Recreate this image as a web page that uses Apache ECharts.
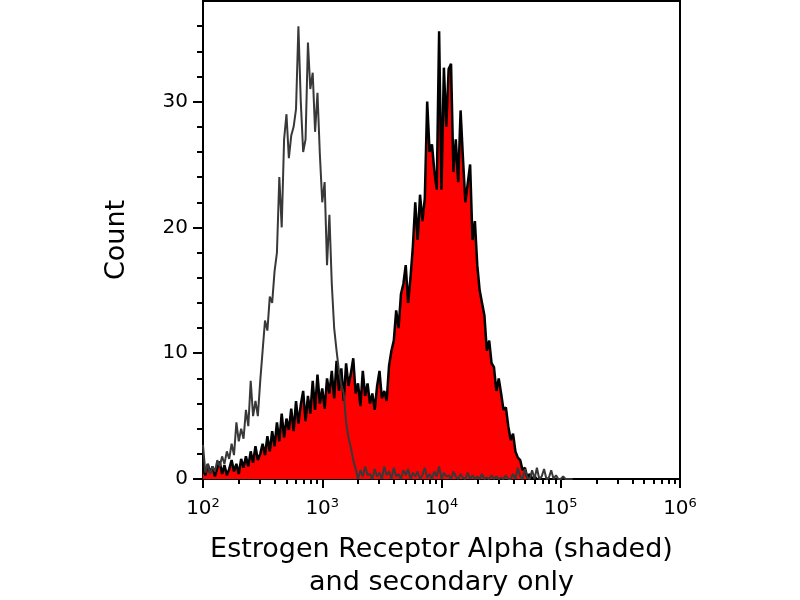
<!DOCTYPE html>
<html>
<head>
<meta charset="utf-8">
<script src="https://cdn.jsdelivr.net/npm/echarts@6/dist/echarts.min.js"></script>
<style>
  html, body { margin: 0; padding: 0; background: #fff; }
  #chart { width: 800px; height: 600px; }
</style>
</head>
<body>
<div id="chart"></div>
<script>
// histogram bins, in log10 of intensity
const binStart = 2
const binStep = 0.02

// Estrogen Receptor Alpha (shaded)
const erCounts = [
  0.8, 0.3, 1.2, 0.5, 1.0, 0.2, 0.9, 1.4, 0.4, 1.1, 0.3, 0.8, 1.5, 0.6, 1.2, 0.4, 1.6, 0.9,
  1.8, 1.0, 2.2, 1.3, 2.6, 1.5, 2.0,
  2.8, 1.9, 3.4, 2.2, 3.8, 2.6, 4.5, 3.0, 5.2, 3.3, 4.8, 3.9,
  5.6, 3.8, 6.2, 4.4, 5.9, 7.0, 4.6, 6.6, 5.2, 7.8, 5.5, 8.3, 6.0, 7.2, 5.6, 8.0, 6.8,
  8.6, 6.4, 9.4, 7.0, 8.8, 6.2, 9.2, 7.4, 8.4,
  9.6, 6.8, 7.6, 5.8, 8.6, 6.6, 7.6, 6.0,
  6.8, 5.5, 7.4, 8.6, 6.4, 7.0, 6.2, 9.0,
  10.2, 11.0, 13.4, 12.0, 14.7, 15.5, 17.0, 14.0,
  16.0, 18.5, 22.0, 19.0, 22.6, 20.5,
  22.3, 30.0, 26.0, 26.6, 24.5, 23.0, 35.6, 23.0,
  32.7, 28.0, 32.6, 33.0, 24.4, 27.0, 23.6, 29.3,
  25.5, 22.0, 23.5, 25.0, 19.0, 20.5, 17.0, 15.0,
  14.0, 13.0, 10.2, 11.0, 9.2, 8.9, 7.0, 8.0, 6.8, 5.5, 5.7,
  4.2, 3.1, 3.6, 2.2, 1.7, 1.5, 0.7, 0.9, 0.1, 0.4, 0.0, 0.2, 0.0
]

// secondary only
const secCounts = [
  2.7, 0.5, 1.2, 0.4, 1.0, 0.6, 1.5, 1.0, 1.8, 1.2, 2.2, 1.6, 2.8, 1.9, 4.5, 3.0, 4.0, 3.2,
  5.5, 4.2, 7.8, 5.0, 6.2, 5.0, 7.8, 10.2, 12.6, 11.8, 14.5, 14.0, 16.5, 18.0,
  24.0, 20.0, 27.0, 29.0, 25.5, 27.3, 28.0, 29.4, 36.0, 30.0, 26.0, 27.0, 34.7, 31.0,
  32.3, 27.6, 30.7, 25.8, 22.0, 23.6, 17.0, 21.0, 15.5, 12.0, 10.2, 8.6, 7.5, 6.8,
  4.5, 3.3, 2.5, 1.5, 0.8, 0.0, 0.7, 0.2, 1.0, 0.3,
  0.4, 0.0, 0.8, 0.2, 0.5, 0.0, 1.0, 0.3, 0.6, 0.0, 0.9, 0.2, 0.4, 0.0, 0.7, 0.3,
  0.8, 0.0, 0.5, 0.2, 0.6, 0.0, 0.3, 0.9, 0.1, 0.4, 0.0, 0.6, 0.2, 1.0, 0.0, 0.5, 0.2, 0.3, 0.0, 0.6,
  0.2, 0.0, 0.4, 0.1, 0.0, 0.5, 0.0, 0.3, 0.0, 0.2, 0.0, 0.4, 0.0, 0.1, 0.0, 0.3, 0.0, 0.2, 0.0, 0.1,
  0.0, 0.3, 0.0, 0.0, 0.4, 0.0, 0.9, 0.2, 0.0, 0.8, 0.1, 0.0, 0.7, 0.0, 0.9, 0.0, 0.2, 0.8, 0.0, 0.1,
  0.7, 0.0, 0.3, 0.0, 0.0, 0.2, 0.0, 0.0, 0.0, 0.0
]

// axis ticks
const xMajor = [2, 3, 4, 5, 6]
const xMinorMult = [2, 3, 4, 5, 6, 7, 8, 9]
const yMajor = [0, 10, 20, 30]
const yMinor = [2, 4, 6, 8, 12, 14, 16, 18, 22, 24, 26, 28, 32, 34, 36]

let xMinor = []
for (let d = 2; d < 6; d++) {
  xMinorMult.forEach(m => xMinor.push(d + Math.log10(m)))
}

function toPoints(counts) {
  return counts.map((c, i) => [binStart + i * binStep, c])
}

const font = 'DejaVu Sans'

let chart = echarts.init(document.getElementById('chart'))
chart.setOption({
  animation: false,
  textStyle: { fontFamily: font, color: '#000' },
  grid: {
    left: 203, right: 120, top: 1, bottom: 121,
    outerBoundsMode: 'none',
    containLabel: false,
    show: true, borderColor: '#000', borderWidth: 2
  },
  xAxis: [
    {
      type: 'value',
      min: 2, max: 6,
      name: 'Estrogen Receptor Alpha (shaded)\nand secondary only',
      nameLocation: 'middle',
      nameGap: 54,
      nameTextStyle: { fontFamily: font, fontSize: 27, lineHeight: 33, color: '#000' },
      splitLine: { show: false },
      axisLine: { show: true, lineStyle: { color: '#000', width: 2 } },
      axisTick: { show: true, customValues: xMajor, length: 9, lineStyle: { color: '#000', width: 2 } },
      axisLabel: {
        customValues: xMajor,
        margin: 18,
        formatter: v => '{b|10}{s|' + v + '}',
        rich: {
          b: { fontFamily: font, fontSize: 20, color: '#000', verticalAlign: 'bottom' },
          s: { fontFamily: font, fontSize: 13, color: '#000', verticalAlign: 'top', padding: [0, 0, 9, 0] }
        }
      }
    },
    {
      type: 'value',
      min: 2, max: 6,
      position: 'bottom',
      splitLine: { show: false },
      axisLine: { show: false },
      axisTick: { show: true, customValues: xMinor, length: 5, lineStyle: { color: '#000', width: 2 } },
      axisLabel: { show: false }
    }
  ],
  yAxis: [
    {
      type: 'value',
      min: 0, max: 38,
      name: 'Count',
      nameLocation: 'middle',
      nameGap: 73,
      nameTextStyle: { fontFamily: font, fontSize: 27, color: '#000' },
      splitLine: { show: false },
      axisLine: { show: true, lineStyle: { color: '#000', width: 2 } },
      axisTick: { show: true, customValues: yMajor, length: 10, lineStyle: { color: '#000', width: 2 } },
      axisLabel: { customValues: yMajor, fontFamily: font, fontSize: 20, color: '#000', margin: 15 }
    },
    {
      type: 'value',
      min: 0, max: 38,
      position: 'left',
      splitLine: { show: false },
      axisLine: { show: false },
      axisTick: { show: true, customValues: yMinor, length: 6, lineStyle: { color: '#000', width: 2 } },
      axisLabel: { show: false }
    }
  ],
  series: [
    {
      name: 'Estrogen Receptor Alpha',
      type: 'line',
      data: toPoints(erCounts),
      showSymbol: false,
      lineStyle: { color: '#000', width: 2.5 },
      areaStyle: { color: '#ff0000', opacity: 1 },
      z: 2
    },
    {
      name: 'secondary only',
      type: 'line',
      data: toPoints(secCounts),
      showSymbol: false,
      lineStyle: { color: '#383838', width: 2 },
      z: 3
    }
  ]
})
</script>
</body>
</html>
